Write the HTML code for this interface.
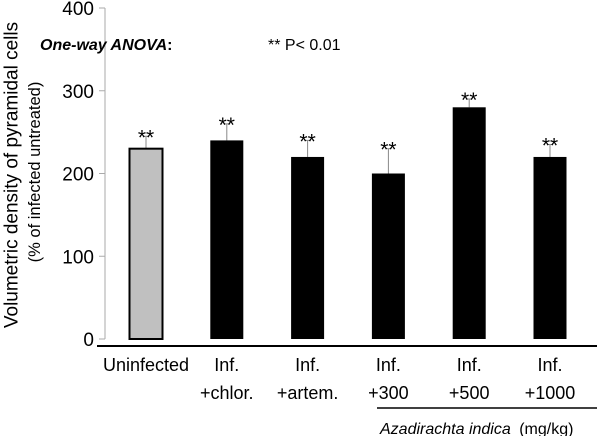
<!DOCTYPE html>
<html><head><meta charset="utf-8"><style>
body{margin:0;background:#fff;}
svg{display:block;font-family:"Liberation Sans",sans-serif;}
</style></head><body>
<svg id="c" width="600" height="436">
<line x1="105" y1="8" x2="105" y2="339" stroke="#aaa" stroke-width="1"/>
<line x1="97" y1="346" x2="597" y2="346" stroke="#000" stroke-width="2"/>
<text x="12" y="175" transform="rotate(-90 12 175)" font-size="19" text-anchor="middle" dominant-baseline="central">Volumetric density of pyramidal cells</text>
<text x="35" y="172" transform="rotate(-90 35 172)" font-size="16.5" text-anchor="middle" dominant-baseline="central">(% of infected untreated)</text>
<text x="40" y="50" font-size="16" font-weight="bold" font-style="italic">One-way ANOVA<tspan font-style="normal">:</tspan></text>
<text x="268" y="50" font-size="16">** P&lt; 0.01</text>
<line x1="377" y1="408" x2="597" y2="408" stroke="#000" stroke-width="1.5"/>
<text x="380" y="434" font-size="16" font-style="italic">Azadirachta indica <tspan font-style="normal" dx="4">(mg/kg)</tspan></text>
</svg>
<script>
const categories1=["Uninfected","Inf.","Inf.","Inf.","Inf.","Inf."];
const categories2=["","+chlor.","+artem.","+300","+500","+1000"];
const values=[230,240,220,200,280,220];
const errors=[15,20,20,30,10,15];
const yTicks=[0,100,200,300,400];
const svg=document.getElementById('c');
const NS='http://www.w3.org/2000/svg';
const y=v=>339-v*0.8275;
const xc=i=>146+i*80.8;
const bw=33;
function mk(t,a){const e=document.createElementNS(NS,t);for(const k in a)e.setAttribute(k,a[k]);svg.appendChild(e);return e;}
yTicks.forEach(t=>{
 const l=mk('line',{x1:99,x2:105,y1:y(t),y2:y(t),stroke:'#aaa'});
 
 
 const tx=mk('text',{x:94,y:y(t)+7,'font-size':19,'text-anchor':'end'});tx.textContent=t;
 
 
});
values.forEach((v,i)=>{
 const top=y(v+errors[i]);
 const el=mk('line',{x1:xc(i),x2:xc(i),y1:y(v),y2:top,stroke:'#888','stroke-width':1});
 
 
 const cap=mk('line',{x1:xc(i)-2,x2:xc(i)+2,y1:top,y2:top,stroke:'#888'});
 
 
 const r=mk('rect',{x:xc(i)-bw/2,y:y(v),width:bw,height:y(0)-y(v),fill:i==0?'#c0c0c0':'#000',stroke:'#000','stroke-width':i==0?2:0});
 
 
 const s=mk('text',{x:xc(i),y:top+8,'font-size':21,'text-anchor':'middle'});s.textContent='**';
 
 
 const t1=mk('text',{x:xc(i),y:371,'font-size':18,'text-anchor':'middle'});t1.textContent=categories1[i];
 
 
 const t2=mk('text',{x:xc(i),y:399,'font-size':18,'text-anchor':'middle'});t2.textContent=categories2[i];
 
 
});
</script>
</body></html>
